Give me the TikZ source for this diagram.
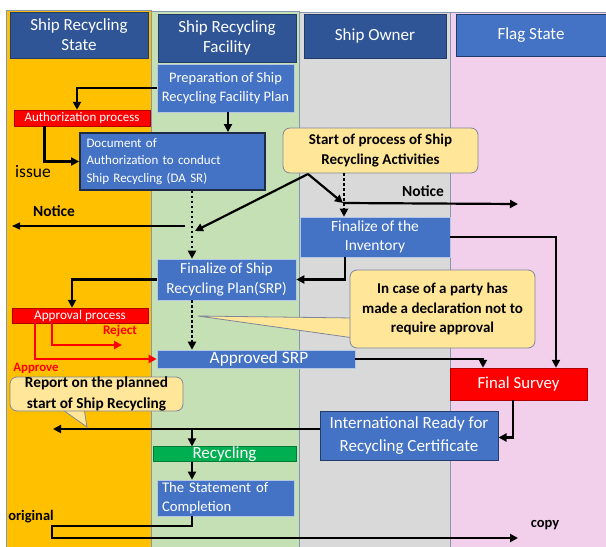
\documentclass[tikz,border=0pt]{standalone}
\usepackage{fontspec}
\setmainfont{Carlito}
\usetikzlibrary{arrows.meta}
\definecolor{laneO}{HTML}{FFC000}
\definecolor{laneG}{HTML}{C5E0B4}
\definecolor{laneY}{HTML}{D9D9D9}
\definecolor{laneP}{HTML}{F2D0EC}
\definecolor{laneline}{HTML}{8497B0}
\definecolor{hdrblue}{HTML}{2F5597}
\definecolor{nodeblue}{HTML}{4472C4}
\definecolor{callfill}{HTML}{FFE699}
\definecolor{callline}{HTML}{7F8699}
\definecolor{recgreen}{HTML}{00B050}
\definecolor{docline}{HTML}{1F2A44}
\newcommand\fsz[2]{\fontsize{#1}{#2}\selectfont}
\tikzset{
  lanebox/.style={draw=laneline, line width=0.8pt},
  hdr/.style={fill=hdrblue, draw=hdrblue!70!black, line width=0.6pt, text=white, font=\fsz{17}{20}, align=center, inner sep=0pt},
  bluebox/.style={fill=nodeblue, draw=white!60!nodeblue, line width=0.6pt, text=white, align=center, inner sep=0pt},
  redbar/.style={fill=red, draw=red!70!black, line width=0.5pt, text=white, inner sep=0pt},
  callout/.style={fill=callfill, draw=callline, line width=0.8pt, rounded corners=7pt, align=center, inner sep=0pt, font=\bfseries\fsz{15}{19.5}},
  calltail/.style={fill=callfill, draw=callline, line width=0.8pt},
  lbl/.style={inner sep=0pt, font=\bfseries\fsz{15.5}{17}},
  conn/.style={draw=black, line width=2.2pt, -{Triangle[length=8pt,width=8pt]}},
  thinconn/.style={draw=black, line width=1.5pt, -{Triangle[length=8pt,width=7pt]}},
  dotconn/.style={draw=black, line width=2.6pt, dash pattern=on 2.5pt off 2.5pt, -{Triangle[length=8pt,width=8pt]}},
  redconn/.style={draw=red, line width=2.2pt, -{Triangle[length=8pt,width=8pt]}}
}
\begin{document}
\begin{tikzpicture}[x=1pt,y=-1pt]
\useasboundingbox (0,0) rectangle (606,547);
\fill[white] (0,0) rectangle (606,547);
% lanes
\filldraw[lanebox, fill=laneO] (6,10) rectangle (151,547);
\filldraw[lanebox, fill=laneG] (151,11) rectangle (299,547);
\filldraw[lanebox, fill=laneY] (299,12) rectangle (450,547);
\filldraw[lanebox, fill=laneP] (450,12) rectangle (607,547);
% headers
\node[hdr, minimum width=138pt, minimum height=46pt] (h1) at (79,35) {Ship Recycling\\State};
\node[hdr, minimum width=138pt, minimum height=48pt] (h2) at (227,38) {Ship Recycling\\Facility};
\node[hdr, minimum width=142pt, minimum height=44pt] (h3) at (375,36) {Ship Owner};
\node[hdr, fill=nodeblue, minimum width=150pt, minimum height=42pt] (h4) at (531,35) {Flag State};

% nodes
\node[bluebox, minimum width=137pt, minimum height=48pt, font=\fsz{14.5}{19.5}] (prep) at (225.5,88) {Preparation of Ship\\Recycling Facility Plan};
\node[redbar, minimum width=136pt, minimum height=16pt, font=\fsz{13}{14}] (auth) at (82,118) {Authorization process};
\node[bluebox, draw=docline, line width=1.8pt, minimum width=185pt, minimum height=57pt, text width=172pt, align=left, font=\fsz{13}{17.5}] (doc) at (172.5,161.5) {Document of\\Authorization to conduct\\Ship Recycling (DA SR)};
\node[inner sep=0pt, font=\fsz{17.5}{19}] (issue) at (33,172) {issue};
\node[callout, minimum width=195pt, minimum height=45pt] (start) at (380.5,150.5) {Start of process of Ship\\Recycling Activities};
\node[lbl] (notice1) at (423,191) {Notice};
\node[bluebox, minimum width=150pt, minimum height=40pt, font=\fsz{15.5}{19.5}] (inv) at (375,237) {Finalize of the\\Inventory};
\node[lbl] (notice2) at (54,211) {Notice};
\node[bluebox, minimum width=139pt, minimum height=41pt, font=\fsz{15.3}{19.5}] (srp) at (226.5,279.5) {Finalize of Ship\\Recycling Plan(SRP)};
\node[redbar, minimum width=136pt, minimum height=15pt, font=\fsz{13.2}{14}] (appr) at (80,315.5) {Approval process};
\node[lbl, text=red, font=\bfseries\fsz{13.2}{14}] (reject) at (120,331) {Reject};
\node[lbl, text=red, font=\bfseries\fsz{12.8}{14}] (approve) at (36,368) {Approve};
\node[bluebox, minimum width=198pt, minimum height=18pt, font=\fsz{17.3}{18}] (apsrp) at (256,359) {\hspace*{6pt}Approved SRP};
% declaration callout
\filldraw[calltail] (354,318) -- (198,316) -- (354,338) -- cycle;
\node[callout, minimum width=185pt, minimum height=78pt] (decl) at (442.5,309) {In case of a party has\\made a declaration not to\\require approval};
\node[redbar, minimum width=137pt, minimum height=32pt, font=\fsz{16.8}{18}] (final) at (518.5,384) {Final Survey};
\node[bluebox, draw=hdrblue!70!black, line width=1pt, minimum width=178pt, minimum height=49pt, font=\fsz{17}{22.5}] (irrc) at (409,435.5) {International Ready for\\Recycling Certificate};
% report callout
\filldraw[calltail] (60,408) -- (87,427) -- (84,408) -- cycle;
\node[callout, minimum width=173pt, minimum height=34pt, font=\bfseries\fsz{15.3}{20.5}] (report) at (96.5,394) {Report on the planned\\start of Ship Recycling};
\node[redbar, fill=recgreen, draw=recgreen!70!black, minimum width=143pt, minimum height=14pt, font=\fsz{17}{15}] (recyc) at (224.5,454) {Recycling};
\node[bluebox, minimum width=137pt, minimum height=36pt, text width=127pt, align=left, font=\fsz{14.7}{19.5}] (stmt) at (225.5,498) {The Statement of\\Completion};
\node[lbl, font=\bfseries\fsz{14.5}{15}] (orig) at (31,517) {original};
\node[lbl, font=\bfseries\fsz{14.5}{15}] (copy) at (545,525) {copy};

% free-end coordinates
\coordinate (cs) at (308,174);
\coordinate (m1) at (195,231);
\coordinate (m2) at (343,203);
\coordinate (n1e) at (518,204);
\coordinate (n2s) at (185,226);
\coordinate (n2e) at (12,226);
\coordinate (rej) at (122,345);
\coordinate (jn) at (192,429);
\coordinate (rl) at (53,429);
\coordinate (o1) at (52,526);
\coordinate (o2) at (52,538);
\coordinate (ce) at (518,538);

% connectors
\draw[conn] (prep.west) -| ([xshift=-5pt]auth.north);
\draw[conn] ([xshift=2.5pt]prep.south) -- ([xshift=55.5pt]doc.north);
\draw[conn, line width=3pt] ([xshift=-38pt]auth.south) |- (doc.west);
\draw[dotconn] ([xshift=19.5pt]doc.south) -- ([xshift=-34.5pt]srp.north);
\draw[conn] (cs) -- (m1);
\draw[conn] (cs) -- (m2);
\draw[dotconn] ([xshift=-36.5pt]start.south) -- ([xshift=-31pt]inv.north);
\draw[conn] (m2) -- (n1e);
\draw[thinconn] (n2s) -- (n2e);
\draw[conn] ([xshift=-30pt]inv.south) |- (srp.east);
\draw[conn] (inv.east) -| ([xshift=37.5pt]final.north);
\draw[conn] (srp.west) -| ([xshift=-8pt]appr.north);
\draw[redconn] ([xshift=-28pt]appr.south) |- (rej);
\draw[redconn] ([xshift=-45pt]appr.south) |- (apsrp.west);
\draw[dotconn] ([xshift=-34.5pt]srp.south) -- ([xshift=-64pt]apsrp.north);
\draw[conn] (apsrp.east) -| ([xshift=-35.5pt]final.north);
\draw[conn] ([xshift=-5.5pt]final.south) |- ([yshift=-2pt]irrc.east);
\draw[conn] ([yshift=6.5pt]irrc.west) -- (rl);
\draw[conn, line width=1.8pt] (jn) -- (jn |- recyc.north);
\draw[conn, line width=1.8pt] ([xshift=-32.5pt]recyc.south) -- ([xshift=-33.5pt]stmt.north);
\draw[conn] ([xshift=-33.5pt]stmt.south) |- (o1) -- (o2) -- (ce);
\end{tikzpicture}
\end{document}
